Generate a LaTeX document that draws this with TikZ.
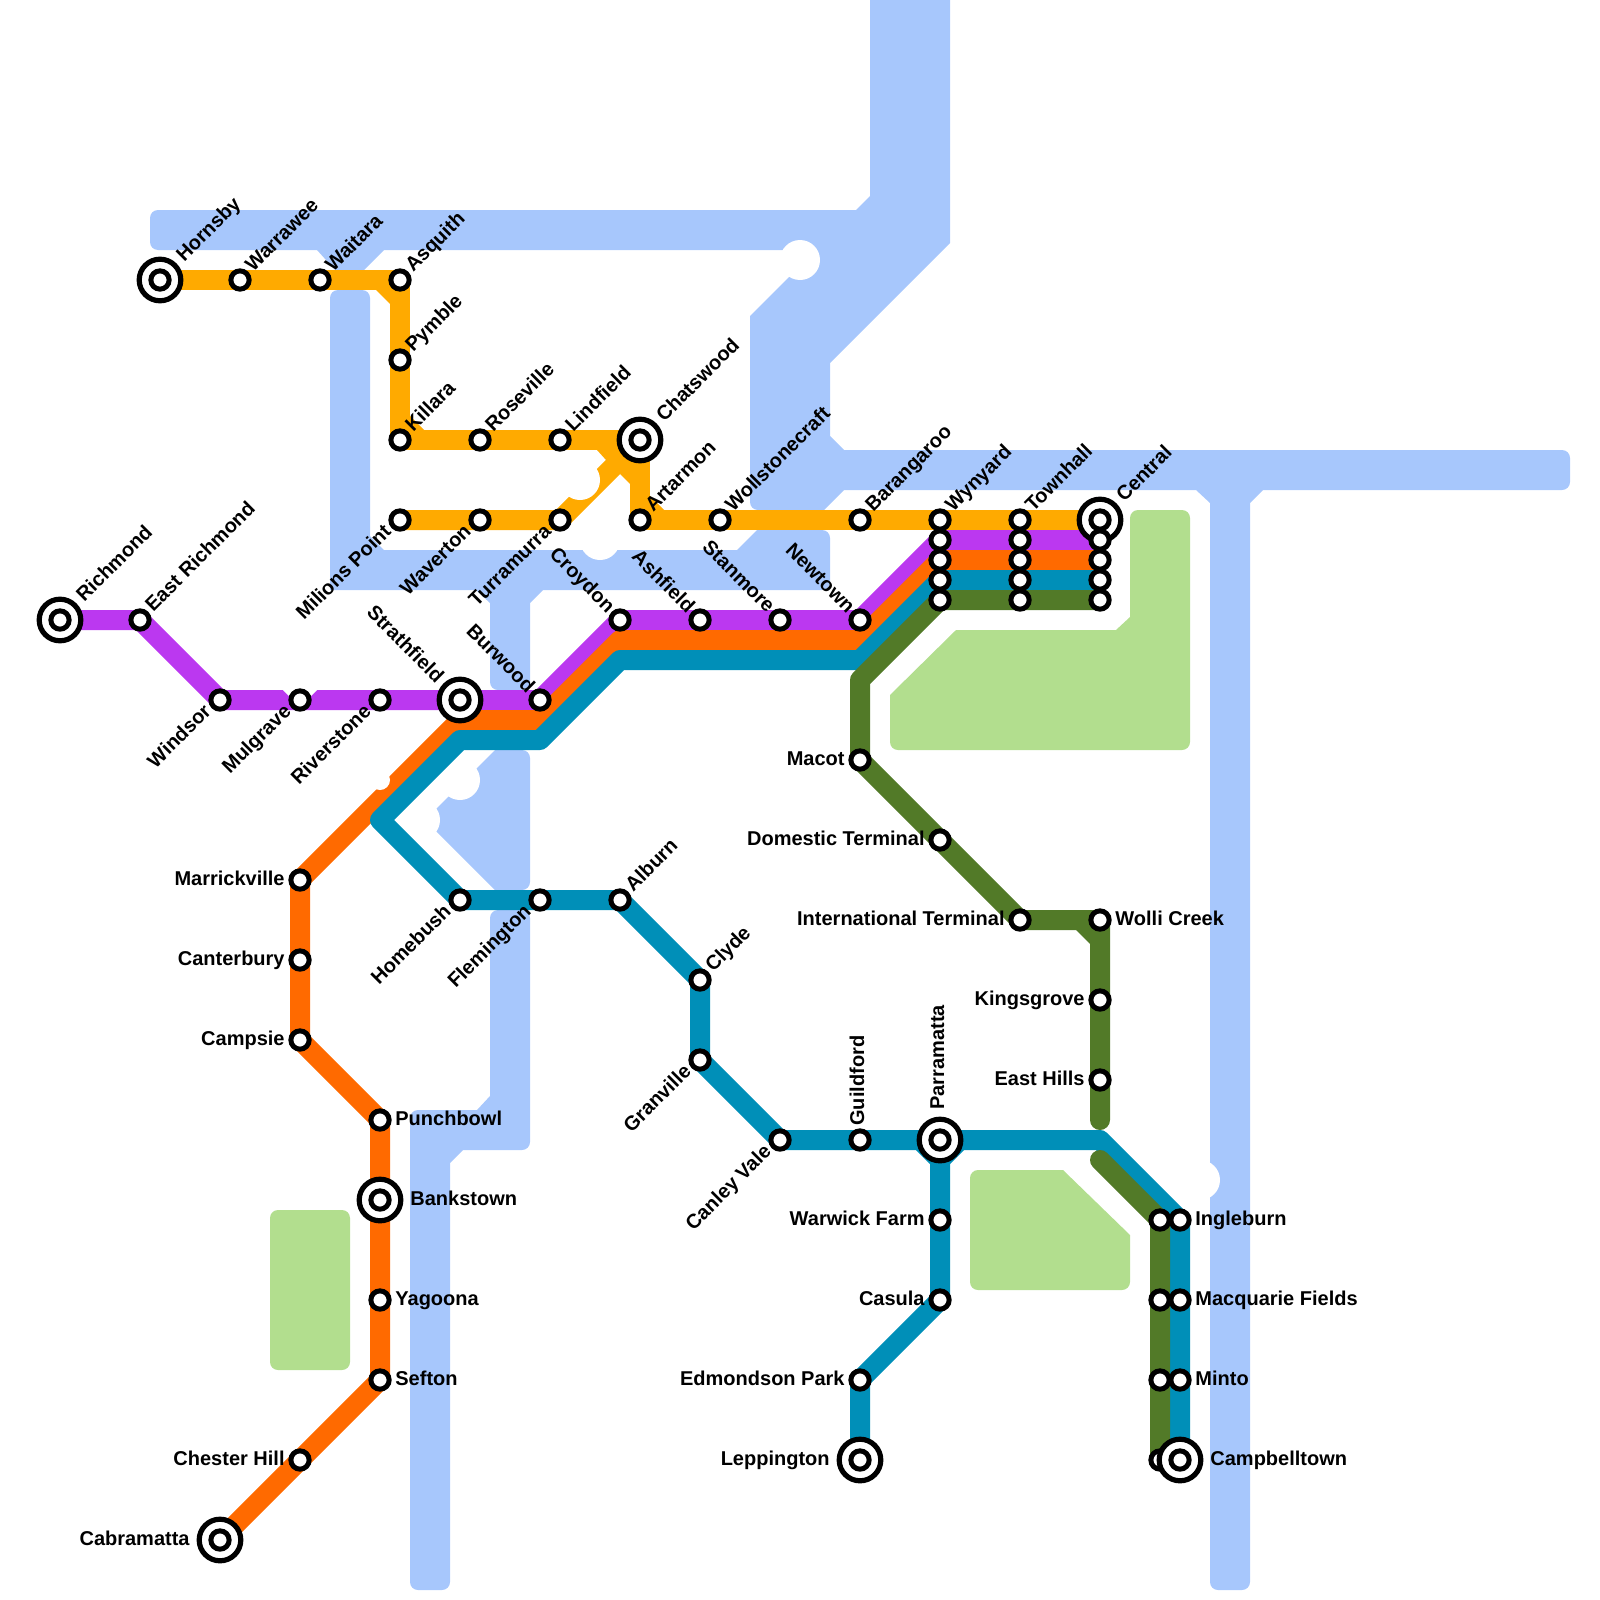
\documentclass[tikz,border=0pt]{standalone}
\usepackage{fontspec}
\setmainfont{Liberation Sans}
\usetikzlibrary{backgrounds}

\definecolor{water}{RGB}{167,199,252}
\definecolor{park}{RGB}{178,222,142}
\definecolor{amberline}{RGB}{255,170,0}
\definecolor{purpleline}{RGB}{187,56,240}
\definecolor{orangeline}{RGB}{255,106,0}
\definecolor{tealline}{RGB}{0,143,184}
\definecolor{greenline}{RGB}{82,122,40}

\tikzset{
    rc/.style={rounded corners=4pt},
    sc/.style={sharp corners},
    track/.style={line width=10pt, line cap=round, line join=round},
    station/.style={circle, draw=black, fill=white, line width=2.5pt, minimum size=9.15pt, inner sep=0pt},
    hub/.style={circle, draw=black, fill=white, line width=2.6pt, minimum size=20.8pt, inner sep=0pt},
    lbl/.style={font=\bfseries\fontsize{10}{12}\selectfont, text=black, inner sep=0pt},
    lblE/.style={lbl, anchor=base west, xshift=7.5pt, yshift=-2.6pt},
    lblW/.style={lbl, anchor=base east, xshift=-7.5pt, yshift=-2.6pt},
    lblHE/.style={lbl, anchor=base west, xshift=15pt, yshift=-2.6pt},
    lblHW/.style={lbl, anchor=base east, xshift=-15pt, yshift=-2.6pt},
    lblNE/.style={lbl, anchor=base west, xshift=6.5pt, yshift=3.5pt, rotate=45},
    lblHNE/.style={lbl, anchor=base west, xshift=12pt, yshift=8.5pt, rotate=45},
    lblSW/.style={lbl, anchor=base east, xshift=-3.8pt, yshift=-6.2pt, rotate=45},
    lblNW/.style={lbl, anchor=base east, xshift=-6.5pt, yshift=3pt, rotate=-45},
    lblHNW/.style={lbl, anchor=base east, xshift=-12pt, yshift=8pt, rotate=-45},
    lblN/.style={lbl, anchor=base west, xshift=2pt, yshift=7pt, rotate=90},
    lblHN/.style={lbl, anchor=base west, xshift=2pt, yshift=15pt, rotate=90},
}

\begin{document}
\begin{tikzpicture}[x=0.5pt, y=-0.5pt]
    \useasboundingbox (0,0) rectangle (1600,1600);

    % stations under the big rings
    \foreach \nm/\px/\py in {ingleburnB/1160/1220, macquarieB/1160/1300, mintoB/1160/1380, campbelltownB/1160/1460}
        \node[station] (\nm) at (\px,\py) {};

    % big rings
    \foreach \nm/\px/\py in {hornsbyR/160/280, chatswoodR/640/440, centralR/1100/520, richmondR/60/620, strathfieldR/460/700,
        bankstownR/380/1200, cabramattaR/220/1540, parramattaR/940/1140, leppingtonR/860/1460, campbelltownR/1180/1460}
        \node[hub] (\nm) at (\px,\py) {};

    % stations
    \foreach \nm/\px/\py in {hornsby/160/280, warrawee/240/280, waitara/320/280, asquith/400/280, pymble/400/360, killara/400/440,
        roseville/480/440, lindfield/560/440, chatswood/640/440, artarmon/640/520, wollstonecraft/720/520, barangaroo/860/520,
        milions/400/520, waverton/480/520, turramurra/560/520,
        wynyardA/940/520, townhallA/1020/520, centralA/1100/520,
        wynyardB/940/540, townhallB/1020/540, centralB/1100/540,
        wynyardC/940/560, townhallC/1020/560, centralC/1100/560,
        wynyardD/940/580, townhallD/1020/580, centralD/1100/580,
        wynyardE/940/600, townhallE/1020/600, centralE/1100/600,
        richmond/60/620, eastrichmond/140/620, windsor/220/700, mulgrave/300/700, riverstone/380/700, strathfield/460/700,
        burwood/540/700, croydon/620/620, ashfield/700/620, stanmore/780/620, newtown/860/620,
        cabramatta/220/1540, chesterhill/300/1460, sefton/380/1380, yagoona/380/1300, bankstown/380/1200, punchbowl/380/1120,
        campsie/300/1040, canterbury/300/960, marrickville/300/880,
        leppington/860/1460, edmondson/860/1380, casula/940/1300, warwick/940/1220, parramatta/940/1140, guildford/860/1140,
        canley/780/1140, granville/700/1060, clyde/700/980, alburn/620/900, flemington/540/900, homebush/460/900,
        ingleburn/1180/1220, macquarie/1180/1300, minto/1180/1380, campbelltown/1180/1460,
        macot/860/760, domestic/940/840, international/1020/920, wolli/1100/920, kingsgrove/1100/1000, easthills/1100/1080}
        \node[station] (\nm) at (\px,\py) {};

    % bend points
    \coordinate (orangeA) at (460,720);
    \coordinate (orangeB) at (540,720);
    \coordinate (orangeC) at (620,640);
    \coordinate (orangeD) at (860,640);
    \coordinate (tealA) at (380,820);
    \coordinate (tealB) at (460,740);
    \coordinate (tealC) at (540,740);
    \coordinate (tealD) at (620,660);
    \coordinate (tealE) at (860,660);
    \coordinate (tealF) at (1100,1140);
    \coordinate (greenA) at (860,680);
    \coordinate (greenB) at (1100,1120);
    \coordinate (greenC) at (1100,1160);

    % labels
    \foreach \nm/\txt in {hornsby/Hornsby, chatswood/Chatswood, centralA/Central, richmond/Richmond}
        \node[lblHNE] (l\nm) at (\nm) {\txt};
    \foreach \nm/\txt in {warrawee/Warrawee, waitara/Waitara, asquith/Asquith, pymble/Pymble, killara/Killara, roseville/Roseville,
        lindfield/Lindfield, artarmon/Artarmon, wollstonecraft/Wollstonecraft, barangaroo/Barangaroo, wynyardA/Wynyard,
        townhallA/Townhall, eastrichmond/East Richmond, alburn/Alburn, clyde/Clyde}
        \node[lblNE] (l\nm) at (\nm) {\txt};
    \foreach \nm/\txt in {milions/Milions Point, waverton/Waverton, turramurra/Turramurra, windsor/Windsor, mulgrave/Mulgrave,
        riverstone/Riverstone, homebush/Homebush, flemington/Flemington, granville/Granville, canley/Canley Vale}
        \node[lblSW] (l\nm) at (\nm) {\txt};
    \foreach \nm/\txt in {burwood/Burwood, croydon/Croydon, ashfield/Ashfield, stanmore/Stanmore, newtown/Newtown}
        \node[lblNW] (l\nm) at (\nm) {\txt};
    \node[lblHNW] (lstrathfield) at (strathfield) {Strathfield};
    \foreach \nm/\txt in {wolli/Wolli Creek, punchbowl/Punchbowl, yagoona/Yagoona, sefton/Sefton, ingleburn/Ingleburn,
        macquarie/Macquarie Fields, minto/Minto}
        \node[lblE] (l\nm) at (\nm) {\txt};
    \foreach \nm/\txt in {macot/Macot, domestic/Domestic Terminal, international/International Terminal, kingsgrove/Kingsgrove,
        easthills/East Hills, marrickville/Marrickville, canterbury/Canterbury, campsie/Campsie, chesterhill/Chester Hill,
        warwick/Warwick Farm, casula/Casula, edmondson/Edmondson Park}
        \node[lblW] (l\nm) at (\nm) {\txt};
    \node[lblHE] (lbankstown) at (bankstown) {Bankstown};
    \node[lblHE] (lcampbelltown) at (campbelltown) {Campbelltown};
    \node[lblHW] (lcabramatta) at (cabramatta) {Cabramatta};
    \node[lblHW] (lleppington) at (leppington) {Leppington};
    \node[lblN] (lguildford) at (guildford) {Guildford};
    \node[lblHN] (lparramatta) at (parramatta) {Parramatta};

    \begin{pgfonlayer}{background}
        % water
        \fill[water] (870,-30) -- (950,-30) -- (950,243) -- (830,363) -- (830,436) -- (844,450) [rc] -- (1570,450) -- (1570,490)
            [sc] -- (1263,490) -- (1250,503) [rc] -- (1250,1590) -- (1210,1590) [sc] -- (1210,503) -- (1196,490)
            -- (844,490) -- (824,510) [rc] -- (750,510) [sc] -- (750,316) -- (816,250) -- (384,250) -- (364,270) -- (335,270)
            -- (317,250) [rc] -- (150,250) -- (150,210) [sc] -- (856,210) -- (870,196) -- cycle;
        \fill[water] (384,550) -- (737,550) -- (757,530) [rc] -- (830,530) -- (830,590) [sc] -- (543,590) -- (530,603)
            [rc] -- (530,690) -- (490,690) [sc] -- (490,603) -- (476,590) -- (330,590) [rc] -- (330,290) -- (370,290)
            [sc] -- (370,536) -- cycle;
        \fill[water] (495,890) -- (425,820) -- (495,750) [rc] -- (530,750) -- (530,890) [sc] -- cycle;
        \fill[water] (450,1163) [rc] -- (450,1590) -- (410,1590) -- (410,1110) [sc] -- (477,1110) -- (490,1096)
            [rc] -- (490,910) -- (530,910) -- (530,1150) [sc] -- (463,1150) -- cycle;

        % parks
        \fill[park] (890,695) -- (956,630) -- (1116,630) -- (1130,617) [rc] -- (1130,510) -- (1190,510) -- (1190,750) -- (890,750)
            [sc] -- cycle;
        \fill[park, rc] (270,1210) rectangle (350,1370);
        \fill[park] (1063,1170) -- (1130,1235) [rc] -- (1130,1290) -- (970,1290) -- (970,1170) [sc] -- cycle;

        % lines
        \draw[track, amberline] (hornsby.center) -- (asquith.center) -- (killara.center) -- (chatswood.center) -- (artarmon.center) -- (centralA.center);
        \draw[track, amberline] (milions.center) -- (turramurra.center) -- (chatswood.center);
        \draw[track, purpleline] (richmond.center) -- (eastrichmond.center) -- (windsor.center) -- (burwood.center) -- (croydon.center) -- (newtown.center) -- (wynyardB.center) -- (centralB.center);
        \draw[track, orangeline] (cabramatta.center) -- (sefton.center) -- (punchbowl.center) -- (campsie.center) -- (marrickville.center) -- (orangeA) -- (orangeB) -- (orangeC) -- (orangeD) -- (wynyardC.center) -- (centralC.center);

        % inner corners
        \fill[amberline] (376,290) -- (390,290) -- (390,304) -- cycle;
        \fill[amberline] (410,416) -- (410,430) -- (424,430) -- cycle;
        \fill[amberline] (650,496) -- (650,510) -- (664,510) -- cycle;
        \fill[amberline] (597,450) -- (606,460) -- (640,450) -- cycle;
        \fill[amberline] (630,450) -- (630,484) -- (620,474) -- cycle;

        % white bites
        \foreach \px/\py/\rr in {800/260/20, 580/480/20, 600/540/20, 380/780/10, 460/780/20, 420/820/20, 1200/1180/20}
            \fill[white] (\px,\py) circle[radius=\rr];
        \fill[white] (283,690) -- (317,690) -- (300,707) -- cycle;

        \draw[track, tealline] (leppington.center) -- (edmondson.center) -- (casula.center) -- (parramatta.center) -- (canley.center) -- (granville.center) -- (clyde.center) -- (alburn.center) -- (homebush.center) -- (tealA) -- (tealB) -- (tealC) -- (tealD) -- (tealE) -- (wynyardD.center) -- (centralD.center);
        \draw[track, tealline] (parramatta.center) -- (tealF) -- (ingleburn.center) -- (campbelltown.center);
        \draw[track, greenline] (centralE.center) -- (wynyardE.center) -- (greenA) -- (macot.center) -- (international.center) -- (wolli.center) -- (greenB);
        \draw[track, greenline] (greenC) -- (ingleburnB.center) -- (campbelltownB.center);
        \fill[greenline] (1076,930) -- (1090,930) -- (1090,944) -- cycle;
        \fill[tealline] (916,1150) -- (930,1150) -- (930,1164) -- cycle;
        \fill[tealline] (964,1150) -- (950,1150) -- (950,1164) -- cycle;
    \end{pgfonlayer}
\end{tikzpicture}
\end{document}
